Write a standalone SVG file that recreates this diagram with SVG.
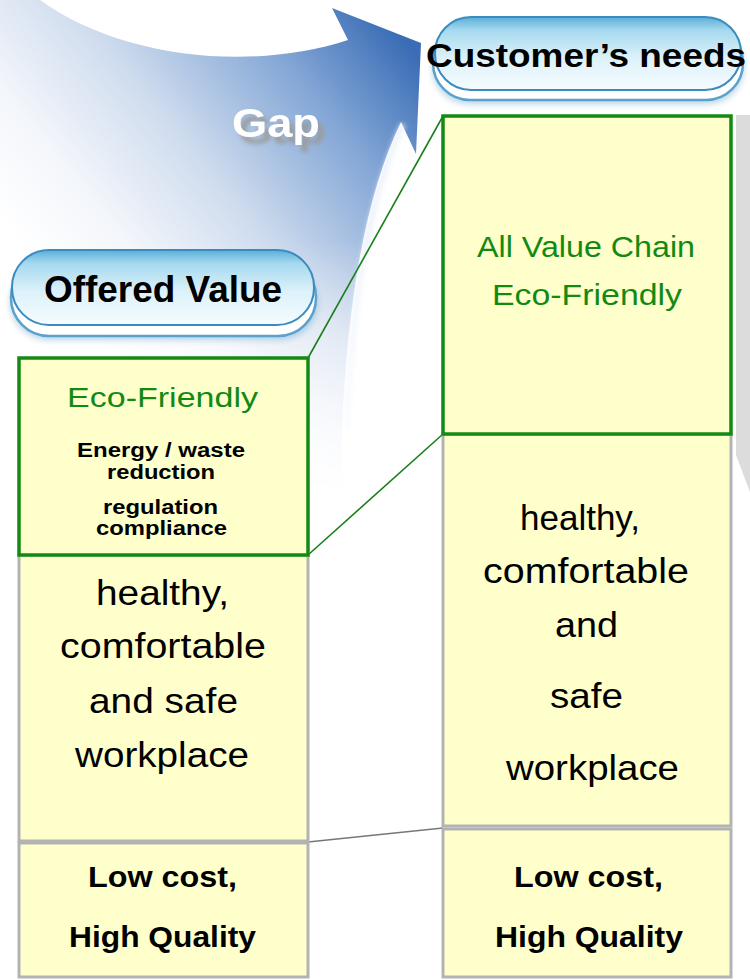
<svg xmlns="http://www.w3.org/2000/svg" width="750" height="980" viewBox="0 0 750 980">
<defs>
<linearGradient id="arrowG" gradientUnits="userSpaceOnUse" x1="420" y1="60" x2="90" y2="330">
<stop offset="0" stop-color="#3a6db5"/>
<stop offset="0.25" stop-color="#84a7d6"/>
<stop offset="0.55" stop-color="#cfdcee"/>
<stop offset="0.8" stop-color="#f3f6fb"/>
<stop offset="1" stop-color="#ffffff"/>
</linearGradient>
<linearGradient id="fadeG" gradientUnits="userSpaceOnUse" x1="0" y1="240" x2="0" y2="500">
<stop offset="0" stop-color="#ffffff"/>
<stop offset="1" stop-color="#000000"/>
</linearGradient>
<mask id="arrowMask" maskUnits="userSpaceOnUse" x="0" y="0" width="450" height="560">
<rect x="0" y="0" width="450" height="560" fill="url(#fadeG)"/>
</mask>
<linearGradient id="pillG" x1="0" y1="0" x2="0" y2="1">
<stop offset="0" stop-color="#5aaed8"/>
<stop offset="0.18" stop-color="#a6d9ef"/>
<stop offset="0.55" stop-color="#dcf1fa"/>
<stop offset="1" stop-color="#f6fcfe"/>
</linearGradient>
<filter id="blur3" x="-20%" y="-20%" width="140%" height="140%"><feGaussianBlur stdDeviation="3"/></filter>
<filter id="blur2" x="-20%" y="-20%" width="140%" height="140%"><feGaussianBlur stdDeviation="2"/></filter>
<filter id="gapShadow" x="-20%" y="-30%" width="160%" height="180%">
<feDropShadow dx="6" dy="7" stdDeviation="2" flood-color="#9a9a9a" flood-opacity="0.9"/>
</filter>
<style>
.box{fill:#ffffcc;stroke:#b3b3b3;stroke-width:3}
.eco{fill:#ffffcc;stroke:#138a13;stroke-width:3.5}
.pill{fill:url(#pillG);stroke:#3a8cbf;stroke-width:2}
.base{fill:#ffffff;stroke:#5aa2cc;stroke-width:2.5}
.shadow{fill:#7fb3d3;opacity:0.55}
.hdr{font-family:"Liberation Sans",Arial,sans-serif;font-weight:bold;fill:#000}
.grn{font-family:"Liberation Sans",Arial,sans-serif;fill:#128a12}
.reg{font-family:"Liberation Sans",Arial,sans-serif;fill:#000}
.bld{font-family:"Liberation Sans",Arial,sans-serif;font-weight:bold;fill:#000}
.conG{stroke:#1a7f1a;stroke-width:1.6;fill:none}
.conY{stroke:#777;stroke-width:1.6;fill:none}
</style>
</defs>
<rect width="750" height="980" fill="#ffffff"/>

<g id="gap-arrow">
<g mask="url(#arrowMask)">
<path d="M40,0 C120,58 250,72 348,40 L332,8 L421,43 L416,154 L401,122 C368,190 348,290 342,430 L342,560 L0,560 L0,0 Z" fill="url(#arrowG)"/>
<path d="M403,124 C372,192 352,285 347,430" stroke="#e6eef9" stroke-width="7" fill="none" opacity="0.6" filter="url(#blur2)"/>
</g>
<text x="232" y="137" class="hdr" font-size="40" textLength="88" lengthAdjust="spacingAndGlyphs" style="fill:#ffffff" filter="url(#gapShadow)">Gap</text>
</g>

<g id="side-shadow">
<polygon points="736,115 750,115 750,492 736,455" fill="#dcdcdc"/>
</g>

<g id="offered-value">
<rect x="10" y="264" width="308" height="76" rx="38" class="shadow" filter="url(#blur3)"/>
<rect x="11" y="259" width="305" height="77" rx="38" class="base"/>
<rect x="12" y="250" width="302" height="75" rx="37" class="pill"/>
<text x="44" y="302" class="hdr" font-size="37" textLength="238" lengthAdjust="spacingAndGlyphs">Offered Value</text>
</g>

<g id="customers-needs">
<rect x="432" y="30" width="312" height="74" rx="37" class="shadow" filter="url(#blur3)"/>
<rect x="433" y="25" width="310" height="75" rx="37" class="base"/>
<rect x="435" y="17" width="306" height="73" rx="36" class="pill"/>
<text x="426" y="67" class="hdr" font-size="34" textLength="320" lengthAdjust="spacingAndGlyphs">Customer’s needs</text>
</g>

<g id="connectors">
<line x1="308" y1="358" x2="443" y2="116" class="conG"/>
<line x1="308" y1="555" x2="443" y2="434" class="conG"/>
<line x1="308" y1="842" x2="443" y2="828" class="conY"/>
</g>

<g id="offered-workplace">
<rect x="19" y="555" width="289" height="286" class="box"/>
<text x="96" y="605" class="reg" font-size="35" textLength="133" lengthAdjust="spacingAndGlyphs">healthy,</text>
<text x="60" y="658" class="reg" font-size="35" textLength="206" lengthAdjust="spacingAndGlyphs">comfortable</text>
<text x="89" y="713" class="reg" font-size="35" textLength="149" lengthAdjust="spacingAndGlyphs">and safe</text>
<text x="75" y="767" class="reg" font-size="35" textLength="174" lengthAdjust="spacingAndGlyphs">workplace</text>
</g>

<g id="offered-cost">
<rect x="19" y="843" width="289" height="134" class="box"/>
<text x="88" y="887" class="bld" font-size="30" textLength="149" lengthAdjust="spacingAndGlyphs">Low cost,</text>
<text x="69" y="947" class="bld" font-size="30" textLength="187" lengthAdjust="spacingAndGlyphs">High Quality</text>
</g>

<g id="offered-eco">
<rect x="19" y="358" width="289" height="197" class="eco"/>
<text x="67" y="407" class="grn" font-size="28" textLength="191" lengthAdjust="spacingAndGlyphs">Eco-Friendly</text>
<text x="77" y="457" class="bld" font-size="20" textLength="168" lengthAdjust="spacingAndGlyphs">Energy / waste</text>
<text x="107" y="479" class="bld" font-size="20" textLength="108" lengthAdjust="spacingAndGlyphs">reduction</text>
<text x="103" y="514" class="bld" font-size="20" textLength="115" lengthAdjust="spacingAndGlyphs">regulation</text>
<text x="96" y="535" class="bld" font-size="20" textLength="131" lengthAdjust="spacingAndGlyphs">compliance</text>
</g>

<g id="needs-workplace">
<rect x="443" y="434" width="288" height="392" class="box"/>
<text x="520" y="530" class="reg" font-size="35" textLength="120" lengthAdjust="spacingAndGlyphs">healthy,</text>
<text x="483" y="583" class="reg" font-size="35" textLength="206" lengthAdjust="spacingAndGlyphs">comfortable</text>
<text x="555" y="637" class="reg" font-size="35" textLength="63" lengthAdjust="spacingAndGlyphs">and</text>
<text x="550" y="708" class="reg" font-size="35" textLength="73" lengthAdjust="spacingAndGlyphs">safe</text>
<text x="506" y="780" class="reg" font-size="35" textLength="173" lengthAdjust="spacingAndGlyphs">workplace</text>
</g>

<g id="needs-cost">
<rect x="443" y="829" width="288" height="148" class="box"/>
<text x="514" y="887" class="bld" font-size="30" textLength="149" lengthAdjust="spacingAndGlyphs">Low cost,</text>
<text x="495" y="947" class="bld" font-size="30" textLength="188" lengthAdjust="spacingAndGlyphs">High Quality</text>
</g>

<g id="needs-eco">
<rect x="443" y="116" width="288" height="318" class="eco"/>
<text x="477" y="257" class="grn" font-size="30" textLength="218" lengthAdjust="spacingAndGlyphs">All Value Chain</text>
<text x="492" y="305" class="grn" font-size="29" textLength="190" lengthAdjust="spacingAndGlyphs">Eco-Friendly</text>
</g>
</svg>
